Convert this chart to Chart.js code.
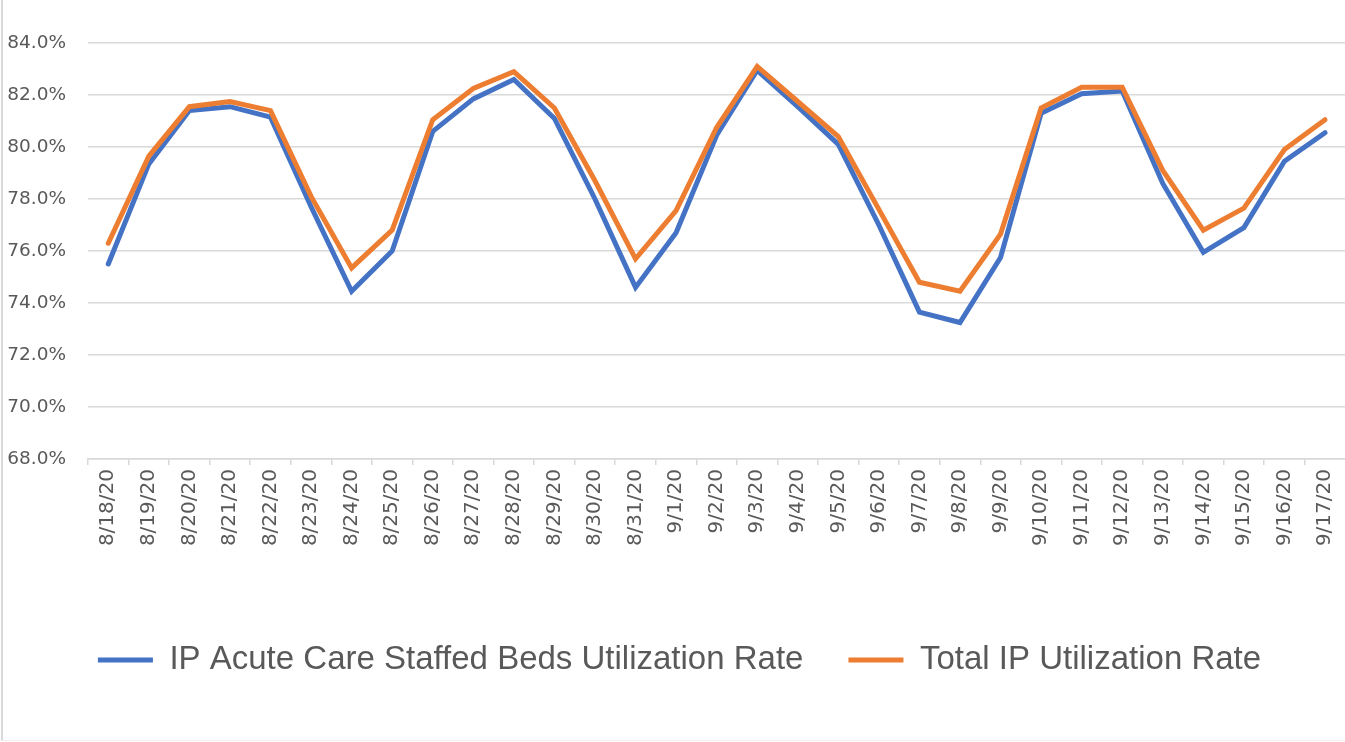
<!DOCTYPE html>
<html>
<head>
<meta charset="utf-8">
<script src="https://cdn.jsdelivr.net/npm/chart.js@4.4.1/dist/chart.umd.min.js"></script>
<style>
  html, body { margin: 0; padding: 0; background: #fff; overflow: hidden; }
  #wrap {
    position: absolute; left: 1px; top: 0;
    width: 1350px; height: 740px;
    border-left: 2px solid #d9d9d9;
    border-bottom: 1px solid #eeeeee;
  }
  canvas { display: block; }
</style>
</head>
<body>
<div id="wrap"><canvas id="lineChart" width="1350" height="740"></canvas></div>
<script>
// tanggal (kategori sumbu x)
const dates = [
  "8/18/20", "8/19/20", "8/20/20", "8/21/20", "8/22/20", "8/23/20", "8/24/20",
  "8/25/20", "8/26/20", "8/27/20", "8/28/20", "8/29/20", "8/30/20", "8/31/20",
  "9/1/20", "9/2/20", "9/3/20", "9/4/20", "9/5/20", "9/6/20", "9/7/20",
  "9/8/20", "9/9/20", "9/10/20", "9/11/20", "9/12/20", "9/13/20", "9/14/20",
  "9/15/20", "9/16/20", "9/17/20"
];

// nilai dalam persen
const acuteCareRate = [
  75.5, 79.35, 81.4, 81.55, 81.15, 77.7, 74.45,
  76.0, 80.6, 81.85, 82.6, 81.1, 78.0, 74.6,
  76.7, 80.45, 82.95, 81.55, 80.1, 77.0, 73.65,
  73.25, 75.75, 81.3, 82.05, 82.15, 78.6, 75.95,
  76.9, 79.45, 80.55
];

const totalIpRate = [
  76.3, 79.65, 81.55, 81.75, 81.4, 78.1, 75.35,
  76.8, 81.05, 82.25, 82.9, 81.5, 78.7, 75.7,
  77.55, 80.75, 83.1, 81.75, 80.4, 77.6, 74.8,
  74.45, 76.65, 81.5, 82.3, 82.3, 79.1, 76.8,
  77.65, 79.9, 81.05
];

const seriesNames = ["IP Acute Care Staffed Beds Utilization Rate", "Total IP Utilization Rate"];
const seriesColors = ["#4472C4", "#ED7D31"];

// tick sumbu y
const yMin = 68;
const yMax = 84;
const yStep = 2;

const textColor = "#595959";
const gridColor = "#d9d9d9";

const ctx = document.getElementById("lineChart").getContext("2d");
new Chart(ctx, {
  type: "line",
  data: {
    labels: dates,
    datasets: [
      {
        label: seriesNames[0],
        data: acuteCareRate,
        borderColor: seriesColors[0],
        backgroundColor: seriesColors[0],
        borderWidth: 5,
        borderCapStyle: "round",
        pointRadius: 0,
        tension: 0,
        order: 2
      },
      {
        label: seriesNames[1],
        data: totalIpRate,
        borderColor: seriesColors[1],
        backgroundColor: seriesColors[1],
        borderWidth: 5,
        borderCapStyle: "round",
        pointRadius: 0,
        tension: 0,
        order: 1
      }
    ]
  },
  options: {
    responsive: false,
    animation: false,
    layout: {
      padding: { top: 43, left: 3, right: 0, bottom: 53.5 }
    },
    plugins: {
      tooltip: { enabled: false },
      legend: {
        position: "bottom",
        labels: {
          usePointStyle: true,
          pointStyle: "line",
          pointStyleWidth: 55,
          padding: 45,
          color: textColor,
          font: { family: "Liberation Sans", size: 33 },
          sort: (a, b) => a.datasetIndex - b.datasetIndex
        }
      }
    },
    scales: {
      x: {
        offset: true,
        grid: {
          offset: true,
          drawOnChartArea: false,
          color: gridColor,
          lineWidth: 1.5,
          tickLength: 6
        },
        border: { color: gridColor, width: 1.5 },
        ticks: {
          color: textColor,
          font: { family: "DejaVu Sans", size: 20 },
          minRotation: 90,
          maxRotation: 90,
          autoSkip: false,
          padding: 4
        },
        afterFit: function(scale) {
          scale.height = 139.5;
        }
      },
      y: {
        min: yMin,
        max: yMax,
        grid: {
          color: gridColor,
          lineWidth: 1.5,
          drawTicks: false
        },
        border: { display: false },
        ticks: {
          stepSize: yStep,
          color: textColor,
          padding: 22,
          font: { family: "DejaVu Sans", size: 18.5 },
          callback: function(value) {
            return value.toFixed(1) + "%";
          }
        },
        afterFit: function(scale) {
          scale.width = 82;
        }
      }
    }
  }
});
</script>
</body>
</html>
